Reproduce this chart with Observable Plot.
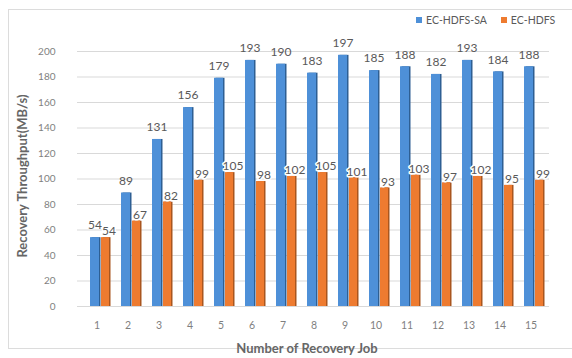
<!DOCTYPE html>
<html>
<head>
<meta charset="utf-8">
<script src="https://cdn.jsdelivr.net/npm/d3@7"></script>
<script src="https://cdn.jsdelivr.net/npm/@observablehq/plot@0.6"></script>
<style>
  html, body { margin: 0; padding: 0; background: #fff; overflow: hidden; }
  #wrap { position: relative; width: 572px; height: 358px; font-family: Lato, "Open Sans", sans-serif; overflow: hidden; }
  #frame { position: absolute; left: 8px; top: 9px; width: 600px; height: 340px; border: 1px solid #dcdcdc; box-sizing: border-box; }
  #chart { position: absolute; left: 0; top: 0; }
  #legend { position: absolute; left: 416px; top: 14px; font-size: 10.5px; color: #595959; white-space: nowrap; }
  #legend span.sw { display: inline-block; width: 6px; height: 6px; margin-right: 4px; vertical-align: 1px; }
  #legend span.item { margin-right: 14px; }
  #ytitle { position: absolute; left: 22px; top: 176px; transform: translate(-50%, -50%) rotate(-90deg); font-size: 13px; font-weight: bold; color: #666; white-space: nowrap; }
  #xtitle { position: absolute; left: 307px; top: 348px; transform: translate(-50%, -50%); font-size: 13px; font-weight: bold; color: #666; white-space: nowrap; }
</style>
</head>
<body>
<div id="wrap">
  <div id="frame"></div>
  <div id="chart"></div>
  <div id="legend"></div>
  <div id="ytitle"></div>
  <div id="xtitle"></div>
</div>
<script>
const jobs = [1, 2, 3, 4, 5, 6, 7, 8, 9, 10, 11, 12, 13, 14, 15];
const saValues = [54, 89, 131, 156, 179, 193, 190, 183, 197, 185, 188, 182, 193, 184, 188];
const hdfsValues = [54, 67, 82, 99, 105, 98, 102, 105, 101, 93, 103, 97, 102, 95, 99];
const seriesNames = ["EC-HDFS-SA", "EC-HDFS"];
const seriesColors = ["#4e90d8", "#ee7b30"];
const shadowColors = ["#2e5f93", "#a9561f"];
const yTicks = [0, 20, 40, 60, 80, 100, 120, 140, 160, 180, 200];
const yTitle = "Recovery Throughput(MB/s)";
const xTitle = "Number of Recovery Job";

const sa = jobs.map((job, i) => ({job, value: saValues[i]}));
const hdfs = jobs.map((job, i) => ({job, value: hdfsValues[i]}));

const textColor = "#595959";

const chart = Plot.plot({
  width: 572,
  height: 358,
  marginLeft: 77,
  marginRight: 23,
  marginTop: 51,
  marginBottom: 52,
  style: {fontFamily: "Lato, 'Open Sans', sans-serif", color: "#7f7f7f", background: "transparent"},
  x: {domain: jobs, padding: 0, label: null, tickSize: 0, tickPadding: 15},
  y: {domain: [0, 200], ticks: yTicks, label: null, tickSize: 0, tickPadding: 22},
  marks: [
    Plot.ruleY(yTicks, {y: d => d, stroke: "#d9d9d9", strokeWidth: 1}),
    Plot.axisX({tickSize: 0, tickPadding: 15, fontSize: 10.5, fill: "#7f7f7f", label: null}),
    Plot.axisY({ticks: yTicks, tickSize: 0, tickPadding: 22, fontSize: 10, fill: "#7f7f7f", label: null}),
    Plot.barY(sa, {x: "job", y: "value", fill: shadowColors[0], insetLeft: 9, insetRight: 13, dx: 1.5}),
    Plot.barY(sa, {x: "job", y: "value", fill: seriesColors[0], insetLeft: 9, insetRight: 13}),
    Plot.barY(hdfs, {x: "job", y: "value", fill: shadowColors[1], insetLeft: 20, insetRight: 3, dx: 1.5}),
    Plot.barY(hdfs, {x: "job", y: "value", fill: seriesColors[1], insetLeft: 20, insetRight: 3}),
    Plot.text(sa, {x: "job", y: "value", text: d => String(d.value), dx: -2, dy: -12, fontSize: 12, fill: textColor}),
    Plot.text(hdfs, {x: "job", y: "value", text: d => String(d.value), dx: 12, dy: -6, fontSize: 12, fill: textColor, stroke: "white", strokeWidth: 3})
  ]
});
document.getElementById("chart").appendChild(chart);

const legend = document.getElementById("legend");
seriesNames.forEach((name, i) => {
  const item = document.createElement("span");
  item.className = "item";
  const sw = document.createElement("span");
  sw.className = "sw";
  sw.style.background = seriesColors[i];
  item.appendChild(sw);
  item.appendChild(document.createTextNode(name));
  legend.appendChild(item);
});
document.getElementById("ytitle").textContent = yTitle;
document.getElementById("xtitle").textContent = xTitle;
</script>
</body>
</html>
